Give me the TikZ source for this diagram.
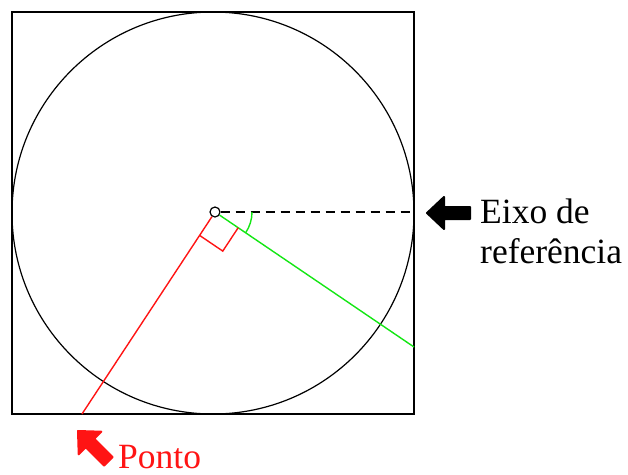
\documentclass[tikz,border=0pt]{standalone}
\usepackage{fontspec}
\setmainfont{Liberation Serif}
\usetikzlibrary{calc}
\definecolor{lred}{RGB}{255,20,20}
\definecolor{lgreen}{RGB}{20,230,20}
\tikzset{
  thin line/.style={line width=1.4pt},
  label text/.style={inner sep=0pt,anchor=base west,font=\fontsize{35.5}{40}\selectfont},
  blockarrow/.pic={
    \filldraw[line width=2pt,line join=round]
      (0,0) -- (17,-16) -- (17,-6) -- (43,-6) -- (43,6) -- (17,6) -- (17,16) -- cycle;
  }
}
\begin{document}
\begin{tikzpicture}[x=1pt,y=-1pt]
\useasboundingbox (0,0) rectangle (628,474);
\draw[line width=1.5pt] (12,12) rectangle (414,414);
\draw[line width=1.2pt] (213,213) circle[radius=201pt];
\coordinate (O) at (215,212);
\coordinate (E) at (414,212);
\coordinate (R) at (82,414);
\coordinate (G) at (414,347);
\node[circle,draw,line width=1.2pt,minimum size=10pt,inner sep=0pt] (c) at (O) {};
\draw[thin line,dash pattern=on 9pt off 6pt] (c) -- (E);
\draw[thin line,lred] (c) -- (R);
\draw[thin line,lgreen] (c) -- (G);
% right angle marker
\coordinate (Ra) at ($(O)!28pt!(R)$);
\coordinate (Ga) at ($(O)!28pt!(G)$);
\draw[thin line,lred] (Ra) -- ($(Ra)+(Ga)-(O)$) -- (Ga);
% angle arc
\draw[thin line,lgreen] ($(O)+(37,0)$) arc[start angle=0,end angle=-34,radius=37pt];
% arrows
\pic at (427,213) {blockarrow};
\pic[lred,rotate=-45] at (78,431) {blockarrow};
% labels
\node[label text] (t1) at (480,223) {Eixo de};
\node[label text] (t2) at (480,263) {referência};
\node[label text,text=lred] (p) at (118,468) {Ponto};
\end{tikzpicture}
\end{document}
